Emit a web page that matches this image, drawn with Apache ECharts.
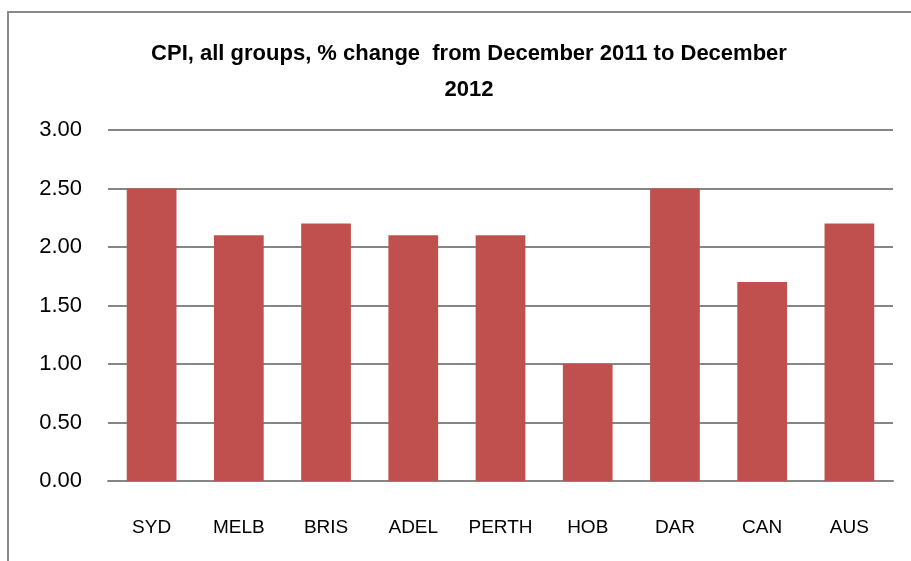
<!DOCTYPE html>
<html>
<head>
<meta charset="utf-8">
<script src="https://cdn.jsdelivr.net/npm/echarts@6/dist/echarts.min.js"></script>
<style>
html,body{margin:0;padding:0;background:#fff;}
#chart{width:911px;height:561px;}
</style>
</head>
<body>
<div id="chart"></div>
<script>
const categories = ['SYD','MELB','BRIS','ADEL','PERTH','HOB','DAR','CAN','AUS'];
const values = [2.5, 2.1, 2.2, 2.1, 2.1, 1.0, 2.5, 1.7, 2.2];
const titleText = 'CPI, all groups, % change  from December 2011 to December\n2012';

const chart = echarts.init(document.getElementById('chart'));
const font = 'Liberation Sans, Arial, sans-serif';
chart.setOption({
  animation: false,
  backgroundColor: '#fff',
  graphic: [{
    type: 'rect',
    shape: {x: 8, y: 12, width: 930, height: 570},
    style: {fill: 'none', stroke: '#898989', lineWidth: 2},
    silent: true
  }],
  title: {
    text: titleText,
    left: 464,
    textAlign: 'center',
    top: 31,
    textStyle: {fontFamily: font, fontWeight: 'bold', fontSize: 22, color: '#000', lineHeight: 36}
  },
  grid: {left: 108, right: 18, top: 130, bottom: 80},
  xAxis: {
    type: 'category',
    data: categories,
    axisTick: {show: false},
    axisLine: {lineStyle: {color: '#868686', width: 2}},
    axisLabel: {interval: 0, hideOverlap: false, fontFamily: font, fontSize: 19, color: '#000', margin: 37}
  },
  yAxis: {
    type: 'value',
    min: 0, max: 3, interval: 0.5,
    axisLine: {show: false},
    axisTick: {show: false},
    splitLine: {lineStyle: {color: '#868686', width: 2}},
    axisLabel: {fontFamily: font, fontSize: 22, color: '#000', margin: 26,
      formatter: v => v.toFixed(2)}
  },
  series: [{
    type: 'bar',
    data: values,
    barWidth: '57%',
    itemStyle: {color: '#C0504D'}
  }]
});
</script>
</body>
</html>
